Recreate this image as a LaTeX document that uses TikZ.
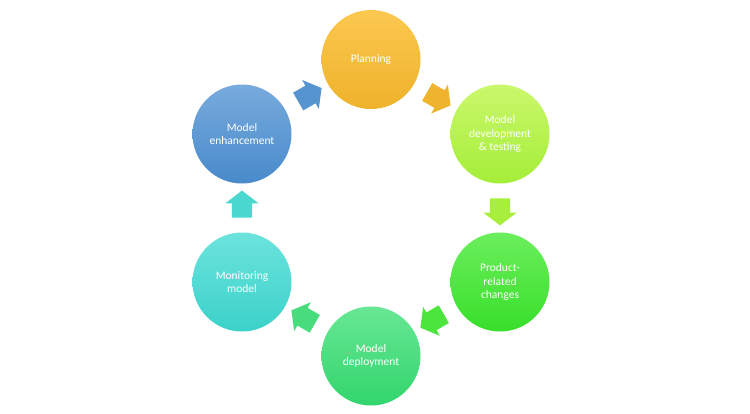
\documentclass[tikz,border=0pt]{standalone}
\usepackage{fontspec}
\setmainfont{Carlito}
\usepackage{xcolor}
\usepackage{tikz}
\usetikzlibrary{positioning,calc,shapes,arrows.meta}

\definecolor{planTop}{HTML}{FCC850}
\definecolor{planBot}{HTML}{EEB22A}
\definecolor{devTop}{HTML}{CBF76C}
\definecolor{devBot}{HTML}{A4EE38}
\definecolor{prodTop}{HTML}{6CEE5C}
\definecolor{prodBot}{HTML}{37DF2A}
\definecolor{depTop}{HTML}{68E794}
\definecolor{depBot}{HTML}{32D56D}
\definecolor{monTop}{HTML}{6CE3DD}
\definecolor{monBot}{HTML}{3BD2CA}
\definecolor{enhTop}{HTML}{78ABDD}
\definecolor{enhBot}{HTML}{488ACB}

\begin{document}
\begin{tikzpicture}[x=1pt,y=-1pt]
\tikzset{phase/.style={circle,minimum size=99pt,inner sep=0pt,text=white,align=center,
    font=\fontsize{11.5}{13.3}\selectfont},
  flowarrow/.style={single arrow,minimum height=27pt,inner xsep=1pt,inner ysep=10pt,
    single arrow head extend=6.5pt,single arrow tip angle=105,draw=none}}

\useasboundingbox (0,0) rectangle (750,413);
\fill[white] (0,0) rectangle (750,413);

% the six phases
\node[phase,top color=planTop,bottom color=planBot] (plan) at (371,59.5) {Planning};
\node[phase,top color=devTop,bottom color=devBot] (dev) at (500,134) {Model\\development\\\& testing};
\node[phase,top color=prodTop,bottom color=prodBot] (prod) at (500,282) {Product-\\related\\changes};
\node[phase,top color=depTop,bottom color=depBot] (deploy) at (371,356) {Model\\deployment};
\node[phase,top color=monTop,bottom color=monBot] (monit) at (242,282) {Monitoring\\model};
\node[phase,top color=enhTop,bottom color=enhBot] (enhance) at (242,134) {Model\\enhancement};

% arrows between them
\node[flowarrow,fill=planBot!90!planTop,rotate=-30] (a1) at ($(plan)!0.5!(dev)$) {};
\node[flowarrow,fill=devBot!90!devTop,rotate=-90] (a2) at ($(dev)!0.5!(prod)$) {};
\node[flowarrow,fill=prodBot!60!prodTop,rotate=-150] (a3) at ($(prod)!0.5!(deploy)$) {};
\node[flowarrow,fill=depBot!60!depTop,rotate=150] (a4) at ($(deploy)!0.5!(monit)$) {};
\node[flowarrow,fill=monBot!70!monTop,rotate=90] (a5) at ($(monit)!0.5!(enhance)$) {};
\node[flowarrow,fill=enhBot!70!enhTop,rotate=30] (a6) at ($(enhance)!0.5!(plan)$) {};
\end{tikzpicture}
\end{document}
